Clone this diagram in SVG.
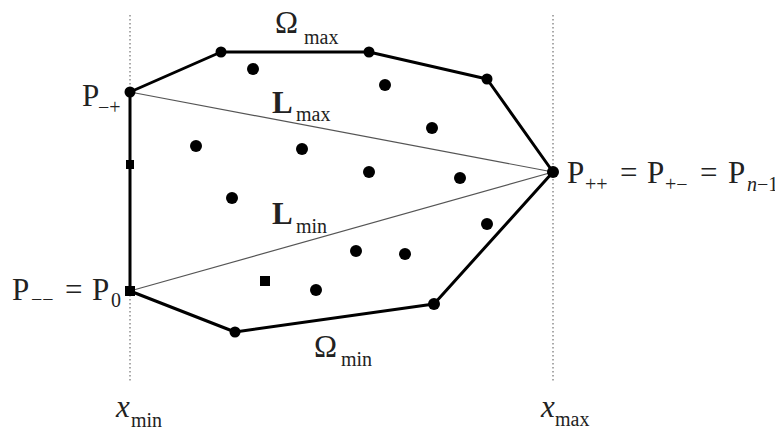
<svg xmlns="http://www.w3.org/2000/svg" width="775" height="430" viewBox="0 0 775 430">
<style>
.bg{fill:#fff}
.guide{stroke:#555;stroke-width:1;stroke-dasharray:1.5 2.5;fill:none}
.hull{stroke:#000;stroke-width:3;fill:none;stroke-linejoin:round}
.lline{stroke:#555;stroke-width:1.2;fill:none}
.dot{fill:#000}
.t{font-family:"Liberation Serif","DejaVu Serif",serif;fill:#222;font-size:31px}
.s{font-family:"Liberation Serif","DejaVu Serif",serif;fill:#222;font-size:20px}
.b{font-weight:bold}
.i{font-style:italic}
</style>
<rect class="bg" x="0" y="0" width="775" height="430"/>
<g id="guides">
<line class="guide" x1="130" y1="15" x2="130" y2="382"/>
<line class="guide" x1="553" y1="15" x2="553" y2="382"/>
</g>
<g id="connectors">
<polygon class="hull" points="130,92 221,52 369,52 487,79 553,172 434,304 235,332 130,291"/>
<line class="lline" x1="130" y1="92" x2="553" y2="172"/>
<line class="lline" x1="130" y1="291" x2="553" y2="172"/>
</g>
<g id="hull-vertices">
<circle class="dot" cx="130" cy="92" r="5.5"/>
<circle class="dot" cx="221" cy="52" r="5.5"/>
<circle class="dot" cx="369" cy="52" r="5.5"/>
<circle class="dot" cx="487" cy="79" r="5.5"/>
<circle class="dot" cx="553" cy="172" r="6"/>
<circle class="dot" cx="434" cy="304" r="6"/>
<circle class="dot" cx="235" cy="332" r="5.5"/>
<rect class="dot" x="125" y="286" width="10" height="10"/>
<rect class="dot" x="126" y="160" width="8" height="9"/>
</g>
<g id="interior-points">
<circle class="dot" cx="253" cy="69" r="6"/>
<circle class="dot" cx="385" cy="85" r="6"/>
<circle class="dot" cx="432" cy="128" r="6"/>
<circle class="dot" cx="196" cy="146" r="6"/>
<circle class="dot" cx="302" cy="149" r="6"/>
<circle class="dot" cx="369" cy="172" r="6"/>
<circle class="dot" cx="460" cy="178" r="6"/>
<circle class="dot" cx="232" cy="198" r="6"/>
<circle class="dot" cx="487" cy="224" r="6"/>
<circle class="dot" cx="356" cy="251" r="6"/>
<circle class="dot" cx="405" cy="254" r="6"/>
<rect class="dot" x="260" y="276" width="10" height="10"/>
<circle class="dot" cx="316" cy="290" r="6"/>
</g>
<g id="label-omega-max">
<text class="t" x="275" y="33">Ω</text><text class="s" x="304" y="44">max</text>
</g>
<g id="label-p-mp">
<text class="t" x="82" y="106">P</text><text class="s" x="98" y="114">−+</text>
</g>
<g id="label-l-max">
<text class="t b" x="272" y="113">L</text><text class="s" x="296" y="121">max</text>
</g>
<g id="label-l-min">
<text class="t b" x="272" y="224">L</text><text class="s" x="296" y="233">min</text>
</g>
<g id="label-p-right">
<text class="t" x="567" y="183">P</text><text class="s" x="585" y="191">++</text>
<text class="t" x="620" y="183">=</text>
<text class="t" x="647" y="183">P</text><text class="s" x="665" y="191">+−</text>
<text class="t" x="700" y="183">=</text>
<text class="t" x="728" y="183">P</text><text class="s" x="747" y="191"><tspan class="i">n</tspan>−1</text>
</g>
<g id="label-p-left">
<text class="t" x="12" y="300">P</text><text class="s" x="31" y="306">−−</text>
<text class="t" x="65" y="300">=</text>
<text class="t" x="92" y="300">P</text><text class="s" x="111" y="307">0</text>
</g>
<g id="label-omega-min">
<text class="t" x="314" y="357">Ω</text><text class="s" x="341" y="366">min</text>
</g>
<g id="label-x-min">
<text class="t i" x="116" y="417">x</text><text class="s" x="131" y="427">min</text>
</g>
<g id="label-x-max">
<text class="t i" x="541" y="417">x</text><text class="s" x="555" y="426">max</text>
</g>
</svg>
